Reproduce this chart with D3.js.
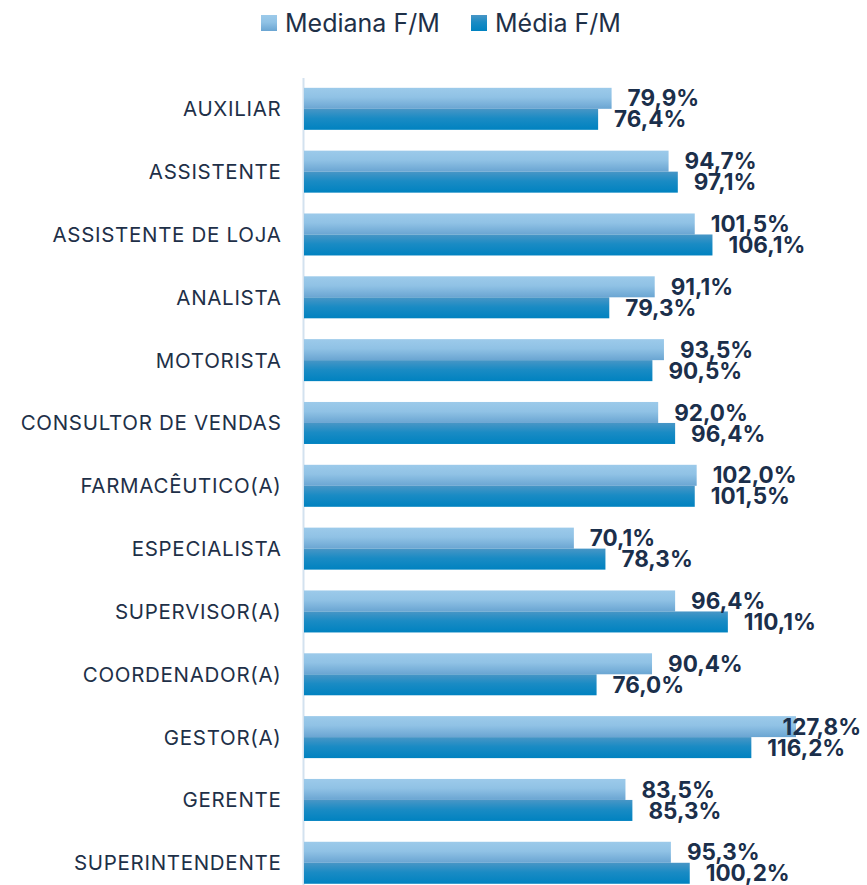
<!DOCTYPE html>
<html>
<head>
<meta charset="utf-8">
<script src="https://cdn.jsdelivr.net/npm/d3@7"></script>
<style>
  body { margin: 0; background: #fff; }
  svg { display: block; }
</style>
</head>
<body>
<div id="chart"></div>
<script>
const categories = [
  "AUXILIAR", "ASSISTENTE", "ASSISTENTE DE LOJA", "ANALISTA", "MOTORISTA",
  "CONSULTOR DE VENDAS", "FARMACÊUTICO(A)", "ESPECIALISTA", "SUPERVISOR(A)",
  "COORDENADOR(A)", "GESTOR(A)", "GERENTE", "SUPERINTENDENTE"
];
const mediana = [79.9, 94.7, 101.5, 91.1, 93.5, 92.0, 102.0, 70.1, 96.4, 90.4, 127.8, 83.5, 95.3];
const media = [76.4, 97.1, 106.1, 79.3, 90.5, 96.4, 101.5, 78.3, 110.1, 76.0, 116.2, 85.3, 100.2];
const seriesNames = ["Mediana F/M", "Média F/M"];

const width = 867;
const height = 885;
const x0 = 304;
const labelMaxX = 861;

const svg = d3.select("#chart").append("svg")
  .attr("width", width)
  .attr("height", height);

const defs = svg.append("defs");
const gradLight = defs.append("linearGradient").attr("id", "gLight")
  .attr("x1", 0).attr("y1", 0).attr("x2", 0).attr("y2", 1);
gradLight.append("stop").attr("offset", "0%").attr("stop-color", "#9ccaea");
gradLight.append("stop").attr("offset", "45%").attr("stop-color", "#90c2e5");
gradLight.append("stop").attr("offset", "100%").attr("stop-color", "#6aa5d2");
const gradDark = defs.append("linearGradient").attr("id", "gDark")
  .attr("x1", 0).attr("y1", 0).attr("x2", 0).attr("y2", 1);
gradDark.append("stop").attr("offset", "0%").attr("stop-color", "#4896c6");
gradDark.append("stop").attr("offset", "45%").attr("stop-color", "#1a8bc4");
gradDark.append("stop").attr("offset", "100%").attr("stop-color", "#0082c0");

const xScale = d3.scaleLinear().domain([0, 127.8]).range([x0, 796]);
const yScale = d3.scaleBand().domain(categories).range([77.4, 77.4 + 13 * 62.83]);
const barH = 21;
const fmt = (v) => d3.format(".1f")(v).replace(".", ",") + "%";

// axis line
svg.append("line")
  .attr("x1", x0 - 0.5).attr("x2", x0 - 0.5)
  .attr("y1", 78).attr("y2", height)
  .attr("stroke", "#d3e2ef").attr("stroke-width", 2);

const rows = svg.append("g").selectAll("g")
  .data(categories)
  .enter()
  .append("g")
  .attr("transform", (d) => "translate(0," + (yScale(d) + yScale.bandwidth() / 2) + ")");

rows.append("text")
  .attr("x", 281.5)
  .attr("y", 0)
  .attr("dy", "0.36em")
  .attr("text-anchor", "end")
  .attr("font-family", "Inter, 'Noto Sans', sans-serif")
  .attr("font-size", 20.5)
  .attr("letter-spacing", 0.7)
  .attr("fill", "#1e3048")
  .text((d) => d);

rows.append("rect")
  .attr("x", x0)
  .attr("y", -barH)
  .attr("height", barH)
  .attr("width", (d, i) => xScale(mediana[i]) - x0)
  .attr("fill", "url(#gLight)");

rows.append("rect")
  .attr("x", x0)
  .attr("y", 0)
  .attr("height", barH)
  .attr("width", (d, i) => xScale(media[i]) - x0)
  .attr("fill", "url(#gDark)");

function valueLabel(values, yPos) {
  rows.append("text")
    .attr("x", (d, i) => xScale(values[i]) + 16)
    .attr("y", yPos)
    .attr("dy", "0.36em")
    .attr("font-family", "Inter, 'Noto Sans', sans-serif")
    .attr("font-weight", 700)
    .attr("font-size", 22.5)
    .attr("fill", "#1b2f4b")
    .text((d, i) => fmt(values[i]))
    .each(function () {
      // keep labels inside the plot, like the original
      const w = this.getComputedTextLength();
      const x = +this.getAttribute("x");
      if (x + w > labelMaxX) this.setAttribute("x", labelMaxX - w);
    });
}
valueLabel(mediana, -barH / 2);
valueLabel(media, barH / 2);

// legend
const legend = svg.append("g").attr("id", "legend");
const legendX = [261, 471];
const legendFill = ["url(#gLight)", "url(#gDark)"];
seriesNames.forEach((name, i) => {
  legend.append("rect")
    .attr("x", legendX[i]).attr("y", 15)
    .attr("width", 16).attr("height", 16)
    .attr("fill", legendFill[i]);
  legend.append("text")
    .attr("x", legendX[i] + 24).attr("y", 23)
    .attr("dy", "0.36em")
    .attr("font-family", "Inter, 'Noto Sans', sans-serif")
    .attr("font-size", 25)
    .attr("fill", "#1e3048")
    .text(name);
});
</script>
</body>
</html>
